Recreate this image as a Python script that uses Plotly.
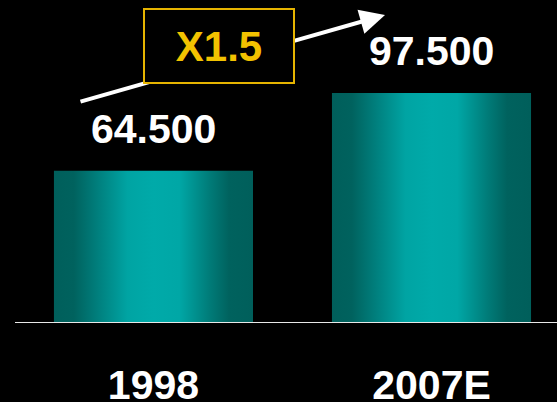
import plotly.graph_objects as go

# ---- data ----
categories = ["1998", "2007E"]
values = [64.5, 97.5]
value_labels = ["64.500", "97.500"]
growth_label = "X1.5"

xpos = [0, 1]
bar_width = 0.716

FONT = "Liberation Sans, Arial, sans-serif"
gradient = [
    [0.00, "#005f5b"], [0.10, "#00625e"], [0.22, "#007f7d"],
    [0.37, "#00a4a3"], [0.50, "#00aaa9"], [0.63, "#00a7a6"],
    [0.78, "#007c79"], [0.88, "#00625e"], [1.00, "#005f5b"],
]

fig = go.Figure()
for x, v in zip(xpos, values):
    x0, x1 = x - bar_width / 2, x + bar_width / 2
    fig.add_trace(go.Scatter(
        x=[x0, x1, x1, x0, x0], y=[0, 0, v, v, 0],
        mode="lines", line=dict(width=0), fill="toself",
        fillgradient=dict(type="horizontal", colorscale=gradient, start=x0, stop=x1),
        hoverinfo="skip", showlegend=False,
    ))

annotations = []
for x, v, t in zip(xpos, values, value_labels):
    annotations.append(dict(
        x=x, y=v, xref="x", yref="y", text=t, showarrow=False,
        yanchor="bottom", yshift=17,
        font=dict(family=FONT, size=41, color="white", weight="bold"),
    ))

W, H = 557, 402
plot_h = 323
# growth arrow
annotations.append(dict(
    x=385 / W, y=(plot_h - 15) / plot_h, xref="paper", yref="paper",
    text="", showarrow=True, ax=-306, ay=87,
    arrowhead=2, arrowsize=1.25, arrowwidth=4, arrowcolor="white", standoff=0,
))
# growth box
annotations.append(dict(
    x=218.5 / W, y=(plot_h - 46) / plot_h, xref="paper", yref="paper",
    text=growth_label, showarrow=False, xanchor="center", yanchor="middle",
    width=146, height=70, borderpad=1, borderwidth=2,
    bordercolor="#E6B400", bgcolor="black",
    font=dict(family=FONT, size=42, color="#F2C200", weight="bold"),
))

fig.update_layout(
    template="none",
    width=W, height=H,
    margin=dict(l=0, r=0, t=0, b=H - plot_h, pad=0, autoexpand=False),
    paper_bgcolor="black", plot_bgcolor="black",
    showlegend=False,
    xaxis=dict(
        range=[-0.552, 1.4514], tickvals=xpos, ticktext=categories,
        showgrid=False, zeroline=False, showline=False, ticks="",
        ticklabelstandoff=34, automargin=False,
        tickfont=dict(family=FONT, size=41, color="white", weight="bold"),
        fixedrange=True,
    ),
    yaxis=dict(range=[0, max(values) * plot_h / 230], visible=False,
               automargin=False, fixedrange=True),
    annotations=annotations,
    shapes=[dict(
        type="line", xref="paper", yref="y", x0=15 / W, x1=1, y0=0, y1=0,
        line=dict(color="#e8e8e8", width=2), layer="above",
    )],
)

fig.write_html(
    "out.html",
    config={"displayModeBar": False},
    post_script="document.body.style.margin='0';document.body.style.background='black';",
)
